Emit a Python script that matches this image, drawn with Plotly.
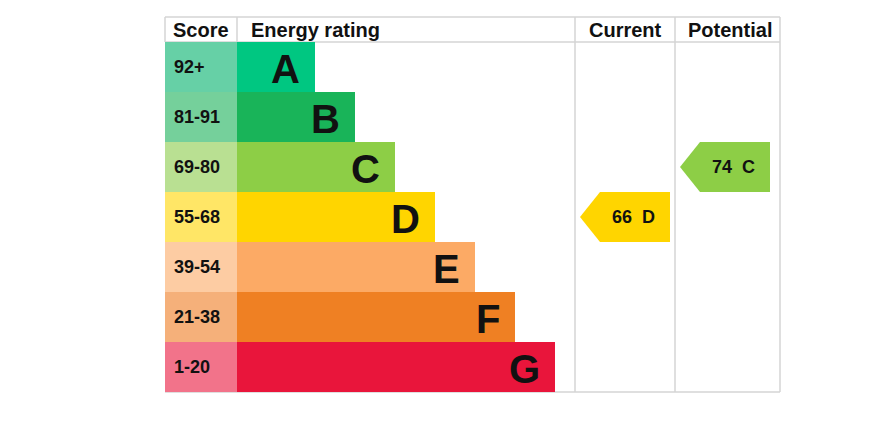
import plotly.graph_objects as go

# ---- data ----
bands = ["A", "B", "C", "D", "E", "F", "G"]
score_ranges = ["92+", "81-91", "69-80", "55-68", "39-54", "21-38", "1-20"]
band_min = [92, 81, 69, 55, 39, 21, 1]
bar_colors = ["#00c781", "#19b459", "#8dce46", "#ffd500", "#fcaa65", "#ef8023", "#e9153b"]
score_colors = ["#66d0a6", "#75d09b", "#b9e092", "#ffe666", "#fdcca3", "#f5b07a", "#f2738a"]
current_score = 66
potential_score = 74
headers = ["Score", "Energy rating", "Current", "Potential"]

# ---- layout geometry (pixels) ----
W, H = 881, 431
L, R = 165, 780
TOP, HDR = 17, 42
ROW = 50
SCORE_R = 237
BAR_STEP = 40
BAR0 = 78
CUR_L, POT_L = 575, 675
FONT = "Liberation Sans, Arial, sans-serif"
GRID = "#d4d4d4"

def band_of(score):
    for i, m in enumerate(band_min):
        if score >= m:
            return i
    return len(bands) - 1

centers = [HDR + ROW * i + ROW / 2 for i in range(len(bands))]
lengths = [BAR0 + BAR_STEP * i for i in range(len(bands))]

fig = go.Figure()
fig.add_trace(go.Bar(orientation="h", y=centers, x=[SCORE_R - L] * len(bands), base=L,
                     width=ROW, marker=dict(color=score_colors, line=dict(width=0)),
                     hoverinfo="skip", showlegend=False))
fig.add_trace(go.Bar(orientation="h", y=centers, x=lengths, base=SCORE_R,
                     width=ROW, marker=dict(color=bar_colors, line=dict(width=0)),
                     hoverinfo="skip", showlegend=False))

annotations = []
for i, b in enumerate(bands):
    annotations.append(dict(x=SCORE_R + lengths[i] - 13, y=centers[i] + 2,
                            text="<b>%s</b>" % b,
                            xanchor="right", yanchor="middle", showarrow=False,
                            font=dict(family=FONT, size=40, color="#111111")))
    annotations.append(dict(x=L + 7, y=centers[i], text="<b>%s</b>" % score_ranges[i],
                            xanchor="left", yanchor="middle", showarrow=False,
                            font=dict(family=FONT, size=18, color="#111111")))

def arrow(score, x_left, x_right):
    i = band_of(score)
    top = HDR + ROW * i
    bot = top + ROW
    cy = top + ROW / 2
    xs = [x_left, x_left + 20, x_right, x_right, x_left + 20, x_left]
    ys = [cy, top, top, bot, bot, cy]
    fig.add_trace(go.Scatter(x=xs, y=ys, fill="toself", fillcolor=bar_colors[i],
                             line=dict(width=0), mode="lines", hoverinfo="skip",
                             showlegend=False))
    annotations.append(dict(x=(x_left + 20 + x_right) / 2 - 2, y=cy,
                            text="<b>%d&nbsp;&nbsp;%s</b>" % (score, bands[i]),
                            showarrow=False, xanchor="center", yanchor="middle",
                            font=dict(family=FONT, size=18, color="#111111")))

arrow(current_score, CUR_L + 5, POT_L - 5)
arrow(potential_score, POT_L + 5, R - 10)

hdr_y = (TOP + HDR) / 2
annotations += [
    dict(x=L + 6, y=hdr_y, text="<b>%s</b>" % headers[0], xanchor="left"),
    dict(x=SCORE_R + 12, y=hdr_y, text="<b>%s</b>" % headers[1], xanchor="left"),
    dict(x=(CUR_L + POT_L) / 2, y=hdr_y, text="<b>%s</b>" % headers[2], xanchor="center"),
    dict(x=(POT_L + R) / 2 + 2, y=hdr_y, text="<b>%s</b>" % headers[3], xanchor="center"),
]
for a in annotations[-4:]:
    a.update(yanchor="middle", showarrow=False,
             font=dict(family=FONT, size=20, color="#111111"))

bottom = HDR + ROW * len(bands)
line = dict(color=GRID, width=1.5)
shapes = [
    dict(type="line", x0=L, x1=R, y0=TOP, y1=TOP, line=line),
    dict(type="line", x0=L, x1=R, y0=HDR, y1=HDR, line=line),
    dict(type="line", x0=L, x1=R, y0=bottom, y1=bottom, line=line),
    dict(type="line", x0=L, x1=L, y0=TOP, y1=HDR, line=line),
    dict(type="line", x0=SCORE_R, x1=SCORE_R, y0=TOP, y1=HDR, line=line),
    dict(type="line", x0=CUR_L, x1=CUR_L, y0=TOP, y1=bottom, line=line),
    dict(type="line", x0=POT_L, x1=POT_L, y0=TOP, y1=bottom, line=line),
    dict(type="line", x0=R, x1=R, y0=TOP, y1=bottom, line=line),
]
for s in shapes:
    s.update(xref="x", yref="y", layer="below")

fig.update_layout(
    width=W, height=H, margin=dict(l=0, r=0, t=0, b=0),
    paper_bgcolor="white", plot_bgcolor="white",
    xaxis=dict(range=[0, W], visible=False, fixedrange=True),
    yaxis=dict(range=[H, 0], visible=False, fixedrange=True),
    barmode="overlay", annotations=annotations, shapes=shapes,
)
fig.write_html("out.html")
